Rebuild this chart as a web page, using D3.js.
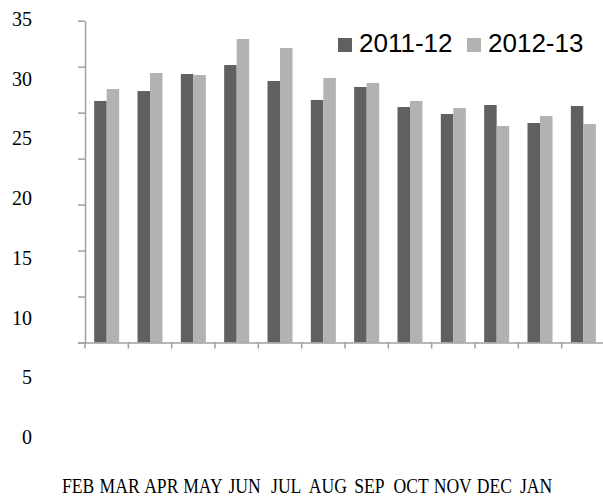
<!DOCTYPE html>
<html>
<head>
<meta charset="utf-8">
<script src="https://cdn.jsdelivr.net/npm/d3@7"></script>
<style>
  body { margin: 0; background: #fff; }
  svg { display: block; }
</style>
</head>
<body>
<svg id="chart" width="603" height="497"></svg>
<script>
// data
const months = ["FEB", "MAR", "APR", "MAY", "JUN", "JUL", "AUG", "SEP", "OCT", "NOV", "DEC", "JAN"];
const series = ["2011-12", "2012-13"];
const values2011 = [26.27, 27.35, 29.2, 30.18, 28.44, 26.38, 27.79, 25.61, 24.85, 25.83, 23.87, 25.72];
const values2012 = [27.57, 29.31, 29.09, 33.01, 32.03, 28.77, 28.23, 26.27, 25.5, 23.55, 24.63, 23.76];
const yLabels = [35, 30, 25, 20, 15, 10, 5, 0];
const colors = ["#606060", "#b2b2b2"];

const data = months.map((m, i) => ({month: m, vals: [values2011[i], values2012[i]]}));

const svg = d3.select("#chart");
const axisColor = "#a0a0a0";

// scales
const x = d3.scaleBand().domain(months).range([85, 605]).padding(0);
const step = x.step();
const groupW = 25;
const x1 = d3.scaleBand().domain(series).range([(step - groupW) / 2, (step + groupW) / 2]);
const y = d3.scaleLinear().domain([0, 35]).range([342.5, 20.7]);

// bars
const groups = svg.append("g").selectAll("g")
    .data(data)
    .join("g")
    .attr("transform", d => `translate(${x(d.month)},0)`);

groups.selectAll("rect")
    .data(d => d.vals.map((v, j) => ({key: series[j], v: v, j: j})))
    .join("rect")
    .attr("x", d => x1(d.key))
    .attr("width", x1.bandwidth())
    .attr("y", d => y(d.v))
    .attr("height", d => y(0) - y(d.v))
    .attr("fill", d => colors[d.j]);

// y axis (tick marks only)
const yAxis = d3.axisLeft(y)
    .tickValues(d3.range(0, 36, 5))
    .tickSize(7)
    .tickSizeOuter(0)
    .tickFormat("");
const yg = svg.append("g").attr("transform", "translate(85,0)").call(yAxis);
yg.select(".domain").attr("stroke", axisColor).attr("stroke-width", 1.5);
yg.selectAll(".tick line").attr("stroke", axisColor).attr("stroke-width", 1.5);

// x axis, ticks at category boundaries
const xAxis = d3.axisBottom(x).tickSize(6).tickSizeOuter(0).tickFormat("");
const xg = svg.append("g").attr("transform", `translate(0,${y(0)})`).call(xAxis);
xg.select(".domain").attr("stroke", axisColor).attr("stroke-width", 1.5)
    .attr("d", `M78,0.5H605`);
xg.selectAll(".tick line")
    .attr("x1", -step / 2).attr("x2", -step / 2)
    .attr("stroke", axisColor).attr("stroke-width", 1.5);

// y labels (sit apart from the tick marks, as in the original)
const yLab = d3.scaleLinear().domain([0, 35]).range([437, 19]);
svg.append("g").selectAll("text")
    .data(yLabels)
    .join("text")
    .attr("x", 32)
    .attr("y", d => yLab(d))
    .attr("dy", "0.35em")
    .attr("text-anchor", "end")
    .attr("font-family", "'Liberation Serif', 'Times New Roman', serif")
    .attr("font-size", "20px")
    .attr("fill", "#000")
    .text(d => d);

// month labels, squeezed together
const xLab = d3.scalePoint().domain(months).range([78, 536]);
svg.append("g").selectAll("text")
    .data(months)
    .join("text")
    .attr("transform", d => `translate(${xLab(d)},493) scale(0.8,1)`)
    .attr("text-anchor", "middle")
    .attr("font-family", "'Liberation Serif', 'Times New Roman', serif")
    .attr("font-size", "22px")
    .attr("fill", "#000")
    .text(d => d);

// legend
const legendX = [338, 467];
const legend = svg.append("g").selectAll("g")
    .data(series)
    .join("g")
    .attr("transform", (d, i) => `translate(${legendX[i]},38)`);
legend.append("rect")
    .attr("width", 14).attr("height", 14)
    .attr("fill", (d, i) => colors[i]);
legend.append("text")
    .attr("x", 21)
    .attr("y", 14.3)
    .attr("font-family", "'Liberation Sans', Arial, sans-serif")
    .attr("font-size", "26px")
    .attr("fill", "#000")
    .text(d => d);
</script>
</body>
</html>
